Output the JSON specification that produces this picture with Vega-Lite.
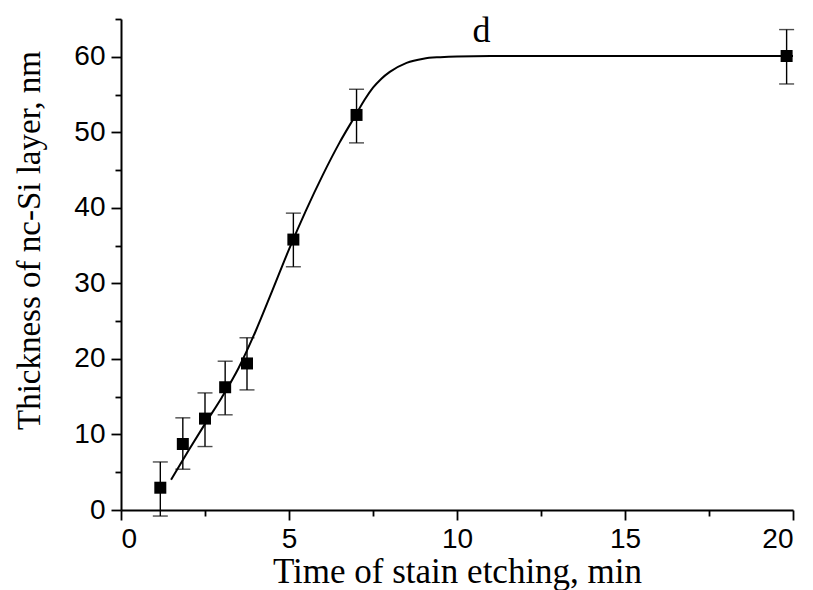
{
  "$schema": "https://vega.github.io/schema/vega-lite/v6.json",
  "width": 672,
  "height": 491,
  "autosize": {"type": "none"},
  "padding": {"left": 121, "top": 19, "right": 20, "bottom": 80},
  "background": "white",
  "config": {
    "view": {"stroke": null},
    "axis": {
      "grid": false,
      "domainColor": "black",
      "domainWidth": 2,
      "tickColor": "black",
      "tickWidth": 1.8,
      "labelColor": "black",
      "labelFont": "Liberation Sans",
      "labelFontSize": 28,
      "titleColor": "black",
      "titleFont": "Liberation Serif",
      "titleFontWeight": "normal"
    }
  },
  "datasets": {
    "pts": [
      {"t": 1.17, "h": 2.95, "lo": -0.8, "hi": 6.36},
      {"t": 1.84, "h": 8.74, "lo": 5.4, "hi": 12.2},
      {"t": 2.5, "h": 12.1, "lo": 8.4, "hi": 15.5},
      {"t": 3.1, "h": 16.25, "lo": 12.6, "hi": 19.7},
      {"t": 3.75, "h": 19.4, "lo": 15.9, "hi": 22.8},
      {"t": 5.13, "h": 35.8, "lo": 32.2, "hi": 39.3},
      {"t": 7.01, "h": 52.3, "lo": 48.6, "hi": 55.7},
      {"t": 19.81, "h": 60.1, "lo": 56.4, "hi": 63.6}
    ],
    "fit": [
      {"t": 1.49, "h": 4.0},
      {"t": 2.0, "h": 7.8},
      {"t": 2.5, "h": 11.4},
      {"t": 3.0, "h": 14.9},
      {"t": 3.5, "h": 18.8},
      {"t": 4.0, "h": 23.6},
      {"t": 4.5, "h": 29.0},
      {"t": 5.0, "h": 34.5},
      {"t": 5.5, "h": 39.6},
      {"t": 6.0, "h": 44.3},
      {"t": 6.5, "h": 48.6},
      {"t": 7.0, "h": 52.4},
      {"t": 7.25, "h": 54.3},
      {"t": 7.5, "h": 55.9},
      {"t": 7.75, "h": 57.1},
      {"t": 8.0, "h": 58.0},
      {"t": 8.5, "h": 59.2},
      {"t": 9.0, "h": 59.75},
      {"t": 9.5, "h": 59.95},
      {"t": 10.0, "h": 60.05},
      {"t": 11.0, "h": 60.1},
      {"t": 20.0, "h": 60.1}
    ],
    "lab": [{"t": 10.73, "h": 62.0, "text": "d"}]
  },
  "layer": [
    {
      "data": {"name": "fit"},
      "mark": {"type": "line", "color": "black", "strokeWidth": 2, "interpolate": "monotone"},
      "encoding": {
        "x": {"field": "t", "type": "quantitative", "scale": {"domain": [0, 20], "nice": false, "zero": false},
          "axis": {"orient": "bottom", "values": [0, 5, 10, 15, 20], "tickSize": 10, "labelPadding": 5,
            "title": "Time of stain etching, min", "titleFontSize": 35, "titleY": 72, "titleBaseline": "alphabetic"}},
        "y": {"field": "h", "type": "quantitative", "scale": {"domain": [0, 65], "nice": false, "zero": false},
          "axis": {"orient": "left", "values": [0, 10, 20, 30, 40, 50, 60], "tickSize": 10, "labelPadding": 6,
            "title": "Thickness of nc-Si layer, nm", "titleFontSize": 33, "titleX": -92, "titleY": 221,
            "titleBaseline": "middle", "titleAlign": "center", "titleAngle": -90}}
      }
    },
    {
      "data": {"name": "pts"},
      "mark": {"type": "rule", "color": "black", "strokeWidth": 1.4},
      "encoding": {
        "x": {"field": "t", "type": "quantitative", "scale": {"domain": [0, 20], "nice": false, "zero": false},
          "axis": {"orient": "bottom", "values": [2.5, 7.5, 12.5, 17.5], "tickSize": 6, "labels": false, "domain": false, "title": null}},
        "y": {"field": "lo", "type": "quantitative", "scale": {"domain": [0, 65], "nice": false, "zero": false},
          "axis": {"orient": "left", "values": [5, 15, 25, 35, 45, 55, 65], "tickSize": 6, "labels": false, "domain": false, "title": null}},
        "y2": {"field": "hi"}
      }
    },
    {
      "data": {"name": "pts"},
      "mark": {"type": "tick", "color": "black", "orient": "horizontal", "size": 15, "thickness": 1.4},
      "encoding": {
        "x": {"field": "t", "type": "quantitative", "scale": {"domain": [0, 20], "nice": false, "zero": false}, "axis": null},
        "y": {"field": "lo", "type": "quantitative", "scale": {"domain": [0, 65], "nice": false, "zero": false}, "axis": null}
      }
    },
    {
      "data": {"name": "pts"},
      "mark": {"type": "tick", "color": "black", "orient": "horizontal", "size": 15, "thickness": 1.4},
      "encoding": {
        "x": {"field": "t", "type": "quantitative", "scale": {"domain": [0, 20], "nice": false, "zero": false}, "axis": null},
        "y": {"field": "hi", "type": "quantitative", "scale": {"domain": [0, 65], "nice": false, "zero": false}, "axis": null}
      }
    },
    {
      "data": {"name": "pts"},
      "mark": {"type": "point", "shape": "square", "filled": true, "color": "black", "size": 144, "opacity": 1},
      "encoding": {
        "x": {"field": "t", "type": "quantitative", "scale": {"domain": [0, 20], "nice": false, "zero": false}, "axis": null},
        "y": {"field": "h", "type": "quantitative", "scale": {"domain": [0, 65], "nice": false, "zero": false}, "axis": null}
      }
    },
    {
      "data": {"name": "lab"},
      "mark": {"type": "text", "font": "Liberation Serif", "fontSize": 36, "color": "black", "align": "center", "baseline": "alphabetic"},
      "encoding": {
        "x": {"field": "t", "type": "quantitative", "scale": {"domain": [0, 20], "nice": false, "zero": false}, "axis": null},
        "y": {"field": "h", "type": "quantitative", "scale": {"domain": [0, 65], "nice": false, "zero": false}, "axis": null},
        "text": {"field": "text"}
      }
    }
  ],
  "resolve": {"axis": {"x": "independent", "y": "independent"}}
}
